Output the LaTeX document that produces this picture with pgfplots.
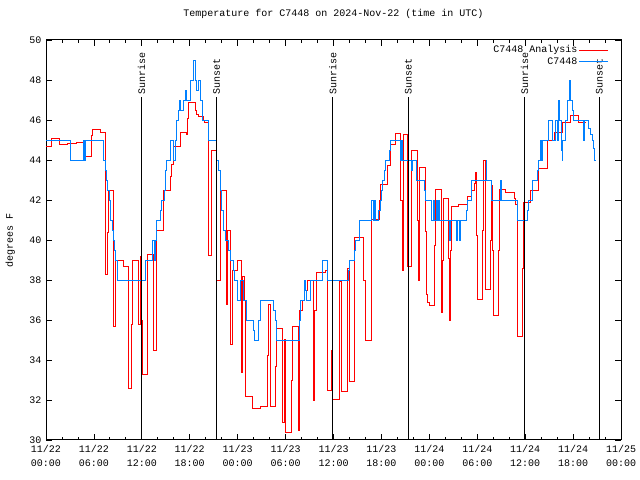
\documentclass[border=0pt]{standalone}
\usepackage{pgfplots}
\pgfplotsset{compat=1.18}
\usepackage{fontspec}
\setmainfont{Liberation Mono}
\definecolor{gred}{RGB}{255,0,0}
\definecolor{gblue}{RGB}{0,128,255}
\begin{document}
\fontsize{10bp}{12bp}\selectfont
\begin{tikzpicture}
\useasboundingbox (0,0) rectangle (640bp,480bp);
\begin{axis}[
  at={(46bp,40bp)}, anchor=south west,
  scale only axis, width=575bp, height=400bp,
  xmin=0, xmax=72, ymin=30, ymax=50,
  clip=false,
  xtick={0,6,...,72},
  xticklabels={{11/22\\00:00},{11/22\\06:00},{11/22\\12:00},{11/22\\18:00},{11/23\\00:00},{11/23\\06:00},{11/23\\12:00},{11/23\\18:00},{11/24\\00:00},{11/24\\06:00},{11/24\\12:00},{11/24\\18:00},{11/25\\00:00}},
  xticklabel style={align=center, font=\fontsize{10bp}{14bp}\selectfont, yshift=-2bp},
  minor x tick num=2,
  ytick={30,32,...,50},
  tick align=inside,
  major tick length=6bp, minor tick length=3bp,
  tick style={black, line width=0.8bp},
  axis line style={line width=1bp},
  /pgf/number format/assume math mode=true,
  yticklabel style={xshift=-1bp},
  ylabel={degrees F},
  ylabel style={at={(axis description cs:-0.062,0.5)}, anchor=center},
  title={Temperature for C7448 on 2024-Nov-22 (time in UTC)},
  title style={at={(axis description cs:0.5,1.05)}, anchor=center},
  legend plot pos=right,
  legend cell align=right,
  legend style={draw=none, fill=none, at={(axis description cs:1,1)}, anchor=north east, xshift=-9bp, yshift=-2bp, nodes={inner sep=1.5bp}, row sep=0bp},
  legend image code/.code={\draw[#1] (0bp,0bp) -- (29bp,0bp);},
]
\addplot[const plot, color=gred, line width=0.9bp] coordinates {
(0,44.7) (0.63,45.1) (1.67,44.8) (2.71,44.85) (3.76,44.9) (4.67,44.5) (4.92,44.2) (5.63,45.25) (5.84,45.55) (6.8,45.4)
(7.43,38.3) (7.68,40.4) (7.85,42.5) (8.47,35.7) (8.68,39) (9.73,38.7) (10.35,32.6) (10.68,35.8) (10.85,39) (11.6,35.8)
(11.81,39.2) (11.98,36) (12.1,33.3) (12.69,39.3) (13.44,34.5) (13.77,40.5) (14.69,42.5) (15.61,43.2) (15.73,43.8) (15.94,44.7)
(16.78,45.4) (17.6,45.3) (17.69,46.1) (17.82,46.9) (18.66,46.5) (18.86,46.3) (19.07,46.17) (19.7,46) (19.9,45.9) (20.33,39.25)
(20.74,44.5) (21.37,38) (21.79,42.5) (22.62,36.8) (22.71,40.5) (23.12,34.8) (23.37,38.5) (23.96,39) (24.46,33.4) (24.58,38.2)
(24.79,37) (25.0,32.2) (25.84,31.6) (26.88,31.7) (27.71,34.25) (27.84,36.8) (28.13,31.7) (28.71,33.7) (28.84,35.6) (29.64,30.9)
(29.8,35.05) (30.01,30.4) (30.76,33) (30.89,35.67) (31.6,30.5) (31.68,34.5) (31.76,36.5) (32.1,37) (32.3,37.5) (32.72,38)
(33.47,32) (33.56,36.5) (33.89,38.4) (35.02,38.5) (35.23,32.5) (35.72,34.5) (35.9,32.05) (36.73,37.95) (37.02,32.45) (37.73,38.6)
(37.98,32.95) (38.61,40.15) (39.73,38) (39.94,35) (40.78,41.05) (41.74,42) (41.82,42.8) (42.74,43.75) (43.08,44.8) (43.7,45.33)
(44.41,42) (44.58,38.5) (44.74,45.3) (45.29,38.7) (45.7,44.5) (46.5,41) (46.62,38) (46.75,43.65) (47.55,40.45) (47.67,37.3)
(47.79,36.9) (48.0,36.75) (48.62,39.75) (48.75,42.55) (49.55,36.4) (49.67,39) (49.75,42.1) (50.38,39.1) (50.5,36) (50.59,39.5)
(50.71,41.7) (51.67,41.8) (52.72,42.2) (53.22,42.5) (53.63,42.85) (53.76,43.4) (53.84,40.25) (53.97,37.05) (54.68,40.5) (54.76,44)
(55.01,37.55) (55.64,40) (55.72,42.75) (55.93,39.5) (56.01,36.25) (56.68,39.5) (56.76,42.55) (57.51,42.4) (58.64,42.1) (58.77,41.8)
(58.98,35.2) (59.69,38.6) (59.82,41.9) (60.65,42.5) (61.61,43.6) (62.74,45) (63.65,45.37) (64.7,45.9) (65.65,46.25) (66.7,45.87)
(67.66,45.87)
};
\addlegendentry{C7448 Analysis\hspace{5bp}}
\addplot[const plot, color=gblue, line width=0.9bp] coordinates {
(0,45) (3.05,44) (4.67,45) (4.8,44) (5.0,45) (7.18,44) (7.43,43.5) (7.55,43) (7.68,42.5) (7.93,42)
(8.1,41) (8.26,40.5) (8.39,40) (8.55,39.5) (8.68,39) (8.89,38) (12.43,39) (13.27,40) (13.52,39) (13.71,40)
(13.86,41) (14.27,41.5) (14.49,42) (14.78,42.5) (14.9,43.5) (15.03,44) (15.53,45) (15.94,44) (16.15,45) (16.28,46)
(16.57,46.5) (16.72,47) (16.84,46.5) (17.19,47) (17.4,47.5) (17.62,47) (18.03,48) (18.44,49) (18.66,48) (18.87,47.5)
(19.07,48) (19.37,47) (19.62,46) (20.32,45) (21.37,44) (21.58,43.5) (21.79,42.5) (22.0,41.5) (22.2,40.5) (22.41,40)
(22.83,39.5) (23.13,39) (23.45,38.5) (23.58,38) (23.96,37) (24.29,38) (24.71,37) (25.04,36) (25.96,35.5) (26.13,35)
(26.55,36) (26.8,37) (28.47,36.5) (28.68,36) (28.84,35) (31.68,36) (31.89,37) (32.31,38) (32.52,37.5) (32.64,37)
(33.14,38) (34.6,39) (35.23,38) (37.86,38.5) (37.98,39) (38.57,39.5) (38.69,40) (39.24,41) (40.78,42) (40.99,41)
(41.11,42) (41.2,41) (41.61,41.5) (41.82,42) (42.03,42.5) (42.16,43) (42.32,43.5) (42.45,44) (42.95,44.5) (43.16,45)
(44.41,44) (44.5,45) (44.58,44) (45.79,43.5) (45.9,44) (46.33,43) (47.33,42.5) (47.46,42) (48.21,41) (48.5,42)
(48.62,41) (48.84,42) (48.96,41) (49.17,42) (49.25,41) (50.5,40) (50.62,41) (51.34,40) (51.55,41) (51.76,40)
(51.88,41) (52.59,41.5) (52.8,42) (53.22,43) (55.1,44) (55.18,43) (55.81,42) (56.85,43) (56.97,42) (59.06,41)
(60.23,41.5) (60.36,42) (60.86,43) (61.48,43.5) (61.69,44) (61.9,45) (62.0,44) (62.19,45) (62.86,46) (63.45,45)
(63.78,46) (63.99,45) (64.2,47) (64.28,46) (64.53,44.5) (64.61,44) (64.7,45) (65.03,46) (65.24,47) (65.53,48)
(65.66,47) (65.87,46.5) (66.08,46) (67.33,45) (67.45,46) (67.95,45.6) (68.16,45.3) (68.37,45) (68.58,44.6) (68.7,44)
(68.8,44)
};
\addlegendentry{C7448\hspace{5bp}}
\addplot[black, line width=1bp, forget plot] coordinates {(11.97,30) (11.97,47.15)};
\addplot[black, line width=1bp, forget plot] coordinates {(21.35,30) (21.35,47.15)};
\addplot[black, line width=1bp, forget plot] coordinates {(35.9,30) (35.9,47.15)};
\addplot[black, line width=1bp, forget plot] coordinates {(45.36,30) (45.36,47.15)};
\addplot[black, line width=1bp, forget plot] coordinates {(59.92,30) (59.92,47.15)};
\addplot[black, line width=1bp, forget plot] coordinates {(69.3,30) (69.3,47.15)};
\node[rotate=90, anchor=west, inner sep=2bp] at (axis cs:11.97,47.15) {Sunrise};
\node[rotate=90, anchor=west, inner sep=2bp] at (axis cs:21.35,47.15) {Sunset};
\node[rotate=90, anchor=west, inner sep=2bp] at (axis cs:35.9,47.15) {Sunrise};
\node[rotate=90, anchor=west, inner sep=2bp] at (axis cs:45.36,47.15) {Sunset};
\node[rotate=90, anchor=west, inner sep=2bp] at (axis cs:59.92,47.15) {Sunrise};
\node[rotate=90, anchor=west, inner sep=2bp] at (axis cs:69.3,47.15) {Sunset};
\end{axis}
\end{tikzpicture}
\end{document}
